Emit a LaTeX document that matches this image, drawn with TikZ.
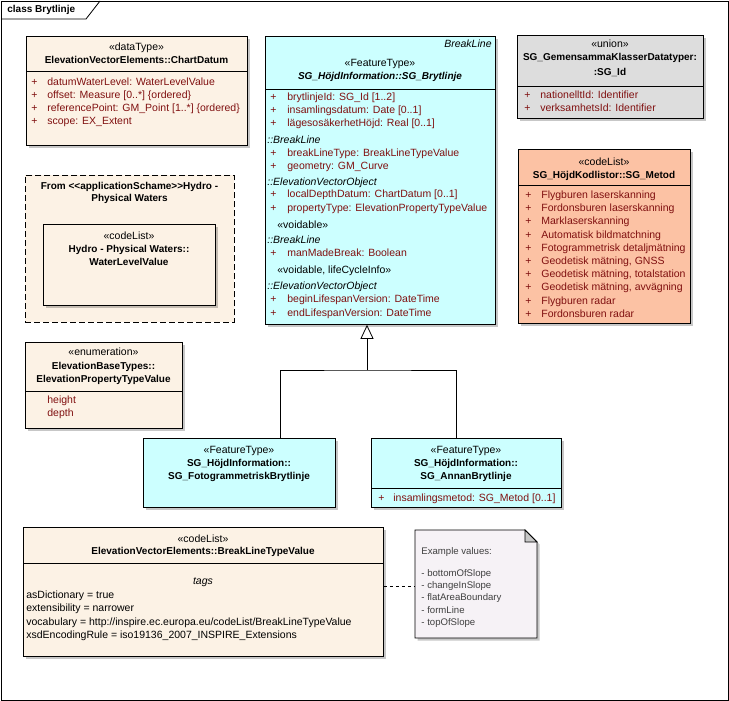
\documentclass[tikz,border=0pt]{standalone}
\usepackage{fontspec}
\setmainfont{Liberation Sans}
\usetikzlibrary{arrows.meta,shadows}
\definecolor{dtfill}{RGB}{252,242,229}
\definecolor{ftfill}{RGB}{204,255,255}
\definecolor{unfill}{RGB}{221,221,221}
\definecolor{clfill}{RGB}{252,194,164}
\definecolor{notefill}{RGB}{246,242,246}
\definecolor{attr}{RGB}{128,16,16}

\begin{document}
\begin{tikzpicture}[x=1pt,y=-1pt,line width=.8pt,
  font=\fontsize{10.5}{12}\selectfont,
  umlbox/.style={draw,anchor=north west,inner sep=0pt,
    drop shadow={shadow xshift=2.5pt,shadow yshift=-2.5pt,opacity=.22,fill=black}},
  txt/.style={inner sep=0pt,text height=7pt,text depth=2pt},
  hdr/.style={txt,anchor=center},
  nm/.style={hdr,font=\fontsize{10}{12}\selectfont\bfseries},
  pl/.style={txt,anchor=west,text=attr},
  sec/.style={txt,anchor=west,font=\fontsize{10.5}{12}\selectfont\itshape},
  tag/.style={txt,anchor=west},
  notetxt/.style={txt,anchor=west,text=black!75,font=\fontsize{9.6}{11}\selectfont}]
\useasboundingbox (0,0) rectangle (729,701);
\draw (1,1) rectangle (728,700);
\draw (1,19) -- (86,19) -- (100,1);
\node[nm,anchor=west] (title) at (7,10) {class Brytlinje};

% boxes
\node[umlbox,fill=dtfill,minimum width=221pt,minimum height=109pt] (chartdatum) at (26,36) {};
\node[draw,dash pattern=on 6pt off 3pt,fill=dtfill,anchor=north west,inner sep=0pt,
  minimum width=209pt,minimum height=147pt] (pkg) at (25,175) {};
\node[umlbox,fill=dtfill,minimum width=172pt,minimum height=81pt] (wlv) at (43,224) {};
\node[umlbox,fill=dtfill,minimum width=157pt,minimum height=86pt] (epvt) at (25,342) {};
\node[umlbox,fill=ftfill,minimum width=230pt,minimum height=288pt] (brytlinje) at (265,36) {};
\node[umlbox,fill=unfill,minimum width=186pt,minimum height=83pt] (sgid) at (517,35) {};
\node[umlbox,fill=clfill,minimum width=172pt,minimum height=174pt] (metod) at (518,149) {};
\node[umlbox,fill=ftfill,minimum width=192pt,minimum height=69pt] (foto) at (143,438) {};
\node[umlbox,fill=ftfill,minimum width=190pt,minimum height=69pt] (annan) at (371,438) {};
\node[umlbox,fill=dtfill,minimum width=360pt,minimum height=129pt] (bltv) at (23,527) {};
\path[draw,fill=notefill,drop shadow={shadow xshift=2.5pt,shadow yshift=-2.5pt,opacity=.22,fill=black}]
  (415,530) -- (525,530) -- (537,542) -- (537,638) -- (415,638) -- cycle;
\draw[fill=black!22] (525,530) -- (525,542) -- (537,542) -- cycle;
\node[anchor=north west,inner sep=0pt,minimum width=122pt,minimum height=108pt] (note) at (415,530) {};

% compartments
\draw (26,71) -- (247,71);
\draw (25,391) -- (182,391);
\draw (265,89) -- (495,89);
\draw (517,86) -- (703,86);
\draw (518,185) -- (690,185);
\draw (371,488) -- (561,488);
\draw (23,563) -- (383,563);

% ChartDatum
\node[hdr] (cdst) at (136.5,48) {«dataType»};
\node[nm] (cdnm) at (136.5,61) {ElevationVectorElements::ChartDatum};
\foreach \t [count=\i from 0] in {datumWaterLevel: WaterLevelValue,
    offset: Measure [0..*] \{ordered\}, referencePoint: GM\_Point [1..*] \{ordered\},
    scope: EX\_Extent}
  {\node[pl] (cdp\i) at (31,{83+13*\i}) {+};
   \node[pl] (cda\i) at (47,{83+13*\i}) {\t};}

% Hydro package
\node[nm] (pkgt1) at (129.5,187) {From <{}<applicationSchame>{}>Hydro -};
\node[nm] (pkgt2) at (129.5,199) {Physical Waters};
\node[hdr] (wlvst) at (129,237) {«codeList»};
\node[nm] (wlvnm1) at (129,250) {Hydro - Physical Waters::};
\node[nm] (wlvnm2) at (129,263) {WaterLevelValue};

% ElevationPropertyTypeValue
\node[hdr] (epst) at (103.5,353) {«enumeration»};
\node[nm] (epnm1) at (103.5,367) {ElevationBaseTypes::};
\node[nm] (epnm2) at (103.5,380) {ElevationPropertyTypeValue};
\node[pl] (eph) at (47,401) {height};
\node[pl] (epd) at (47,414) {depth};

% SG_Brytlinje
\node[sec,anchor=east] (blsup) at (492,45) {BreakLine};
\node[hdr] (blst) at (380,64) {«FeatureType»};
\node[nm,font=\fontsize{10}{12}\selectfont\bfseries\itshape] (blnm) at (380,77) {SG\_HöjdInformation::SG\_Brytlinje};
\foreach \y/\t in {98/brytlinjeId: SG\_Id [1..2], 111/insamlingsdatum: Date [0..1],
    124/lägesosäkerhetHöjd: Real [0..1], 154/breakLineType: BreakLineTypeValue,
    167/geometry: GM\_Curve, 195/localDepthDatum: ChartDatum [0..1],
    209/propertyType: ElevationPropertyTypeValue, 254/manMadeBreak: Boolean,
    300/beginLifespanVersion: DateTime, 314/endLifespanVersion: DateTime}
  {\node[pl] (blp\y) at (270,\y) {+};
   \node[pl] (bla\y) at (287,\y) {\t};}
\foreach \y/\t in {141/::BreakLine, 183/::ElevationVectorObject, 241/::BreakLine,
    287/::ElevationVectorObject}
  \node[sec] (bls\y) at (267,\y) {\t};
\node[tag] (blv1) at (277,226) {«voidable»};
\node[tag] (blv2) at (277,271) {«voidable, lifeCycleInfo»};

% SG_Id
\node[hdr] (idst) at (610,45) {«union»};
\node[nm] (idnm1) at (610,58) {SG\_GemensammaKlasserDatatyper:};
\node[nm] (idnm2) at (610,73) {:SG\_Id};
\foreach \t [count=\i from 0] in {nationelltId: Identifier, verksamhetsId: Identifier}
  {\node[pl] (idp\i) at (524,{96+13*\i}) {+};
   \node[pl] (ida\i) at (540,{96+13*\i}) {\t};}

% SG_Metod
\node[hdr] (mest) at (604,163) {«codeList»};
\node[nm] (menm) at (604,176) {SG\_HöjdKodlistor::SG\_Metod};
\foreach \t [count=\i from 0] in {Flygburen laserskanning, Fordonsburen laserskanning,
    Marklaserskanning, Automatisk bildmatchning, Fotogrammetrisk detaljmätning,
    {Geodetisk mätning, GNSS}, {Geodetisk mätning, totalstation},
    {Geodetisk mätning, avvägning}, Flygburen radar, Fordonsburen radar}
  {\node[pl] (mep\i) at (525,{196+13.2*\i}) {+};
   \node[pl] (mea\i) at (541,{196+13.2*\i}) {\t};}

% subtypes
\node[hdr] (fost) at (239,451) {«FeatureType»};
\node[nm] (fonm1) at (239,464) {SG\_HöjdInformation::};
\node[nm] (fonm2) at (239,477) {SG\_FotogrammetriskBrytlinje};
\node[hdr] (anst) at (466,451) {«FeatureType»};
\node[nm] (annm1) at (466,464) {SG\_HöjdInformation::};
\node[nm] (annm2) at (466,477) {SG\_AnnanBrytlinje};
\node[pl] (anp) at (378,499) {+};
\node[pl] (ana) at (393,499) {insamlingsmetod: SG\_Metod [0..1]};

\coordinate (fork) at (367,370);
\draw ([xshift=41pt]foto.north) |- (fork) -| ([xshift=-10pt]annan.north);
\draw[-{Triangle[open,width=13pt,length=14pt]}] (fork) -- (fork |- brytlinje.south);

% BreakLineTypeValue
\node[hdr] (bvst) at (203,540) {«codeList»};
\node[nm] (bvnm) at (203,552) {ElevationVectorElements::BreakLineTypeValue};
\node[hdr,font=\fontsize{10.5}{12}\selectfont\itshape] (bvtags) at (203,582) {tags};
\node[tag] (bvt1) at (26,596) {asDictionary = true};
\node[tag] (bvt2) at (26,609) {extensibility = narrower};
\node[tag] (bvt3) at (26,623) {vocabulary = http://inspire.ec.europa.eu/codeList/BreakLineTypeValue};
\node[tag] (bvt4) at (26,636) {xsdEncodingRule = iso19136\_2007\_INSPIRE\_Extensions};

% note
\node[notetxt] (n0) at (421,552) {Example values:};
\foreach \t [count=\i from 0] in {bottomOfSlope, changeInSlope, flatAreaBoundary, formLine, topOfSlope}
  \node[notetxt] (n\i) at (421,{574+12.2*\i}) {- \t};
\draw[dash pattern=on 3pt off 3pt] (bltv.east |- n1.west) -- (note.west |- n1.west);
\end{tikzpicture}
\end{document}
